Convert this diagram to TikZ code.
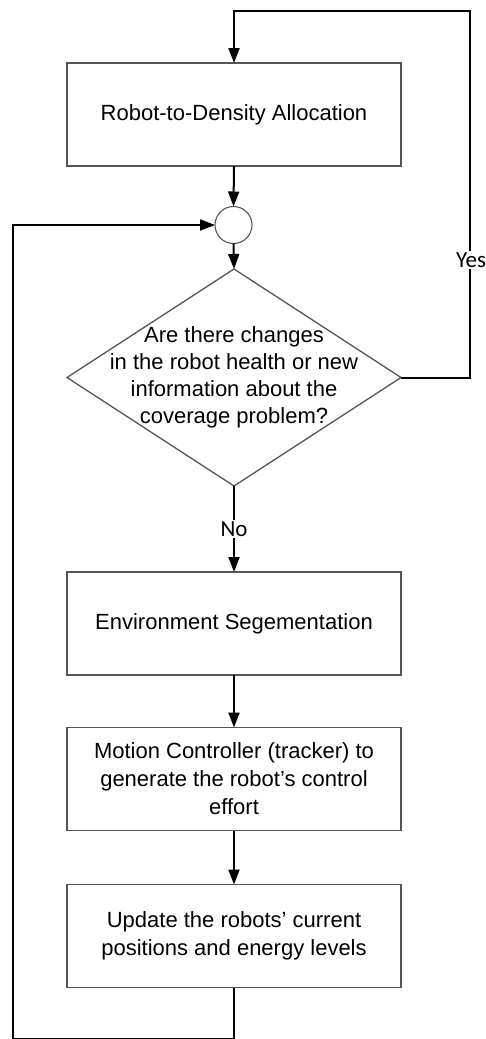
\documentclass[tikz,border=0pt]{standalone}
\usepackage{fontspec}
\setmainfont{Liberation Sans}
\newfontfamily\labelfont{Carlito}
\usetikzlibrary{arrows.meta}
\definecolor{bordergray}{HTML}{555555}
\tikzset{
  x=1pt,y=-1pt,
  procbox/.style={draw=bordergray,line width=1.3pt,minimum width=334pt,minimum height=103pt,inner sep=0pt,outer sep=0pt,align=center,font=\fontsize{22}{28}\selectfont},
  dectext/.style={inner sep=0pt,align=center,font=\fontsize{22}{27}\selectfont},
  decedge/.style={draw=bordergray,line width=1.3pt,line join=miter},
  junction/.style={circle,draw=bordergray,line width=1.1pt,minimum size=37pt,inner sep=0pt,outer sep=0pt},
  flow/.style={line width=2pt,black,-{Triangle[length=15pt,width=11pt]}},
  edgelabel/.style={fill=white,inner sep=2pt,font=\labelfont\fontsize{23}{26}\selectfont}
}
\begin{document}
\begin{tikzpicture}
\useasboundingbox (0,0) rectangle (486,1039);
\node[procbox] (alloc) at (234,114.5) {Robot-to-Density Allocation};
\node[junction] (join) at (233.5,225) {};
% decision diamond
\coordinate (dtop) at (234,269);
\coordinate (dleft) at (67,377.5);
\coordinate (dright) at (401,377.5);
\coordinate (dbot) at (234,486);
\draw[decedge] (dtop) -- (dright) -- (dbot) -- (dleft) -- cycle;
\node[dectext] (dec) at (234,377.5) {Are there changes\\in the robot health or new\\information about the\\coverage problem?};
\node[procbox] (seg) at (234,623.5) {Environment Segementation};
\node[procbox] (ctrl) at (234,779) {Motion Controller (tracker) to\\generate the robot's control\\effort};
\node[procbox] (upd) at (234,936) {Update the robots' current\\positions and energy levels};
\coordinate (rmid) at (470,377.5);
\coordinate (tr) at (470,11);
\coordinate (tl) at (234,11);
\coordinate (br) at (234,1039);
\coordinate (bl) at (12.5,1039);
\coordinate (ml) at (12.5,225);
% top loop
\draw[flow] (dright) -- (rmid) -- (tr) -- (tl) -- (alloc.north);
\node[edgelabel] (yes) at (471,260) {Yes};
\draw[flow] (alloc.south) -- (join.north);
\draw[flow] (join.south) -- (dtop);
\draw[flow] (dbot) -- (seg.north) node[pos=0.5,edgelabel] (no) {No};
\draw[flow] (seg.south) -- (ctrl.north);
\draw[flow] (ctrl.south) -- (upd.north);
\draw[flow] (upd.south) -- (br) -- (bl) -- (ml) -- (join.west);
\end{tikzpicture}
\end{document}
